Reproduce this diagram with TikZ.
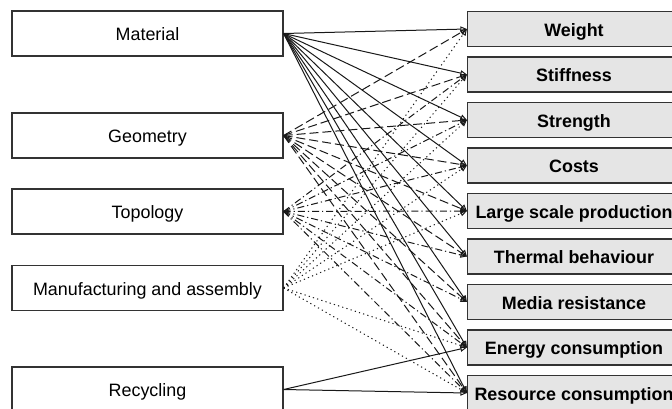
\documentclass[tikz,border=0pt]{standalone}
\usepackage{fontspec}
\setmainfont{Liberation Sans}
\usetikzlibrary{arrows.meta}
\tikzstyle{cause}=[rectangle,fill=white,draw=black!80,line width=1.2pt,minimum width=271pt,minimum height=45pt,inner sep=0pt,text height=14.5pt,text depth=0pt,anchor=center,font=\fontsize{17.9}{20}\selectfont]
\tikzstyle{effect}=[rectangle,fill=black!10,draw=black!80,line width=1.2pt,minimum width=213pt,minimum height=35pt,inner sep=0pt,text height=14pt,text depth=0pt,anchor=center,font=\fontsize{17.9}{20}\selectfont\bfseries]
\tikzstyle{link}=[line width=1pt,black!90,-{Triangle[open,length=6.5pt,width=5.5pt]}]
\tikzstyle{lmat}=[link,solid]
\tikzstyle{lgeo}=[link,dash pattern=on 9pt off 4pt]
\tikzstyle{ltop}=[link,dash pattern=on 7pt off 3pt on 1.2pt off 3pt]
\tikzstyle{lman}=[link,dash pattern=on 1.2pt off 3.2pt]
\begin{document}
\begin{tikzpicture}[x=1pt,y=-1pt]
	\clip (0,0) rectangle (672,408);
	\fill[white] (0,0) rectangle (672,408);

	% causes
	\node[cause](material) at (147.5,33.5){Material};
	\node[cause](geometry) at (147.5,135.5){Geometry};
	\node[cause](topology) at (147.5,211.5){Topology};
	\node[cause](manufacturing) at (147.5,288){Manufacturing and assembly};
	\node[cause](recycling) at (147.5,389.5){Recycling};

	% effects
	\foreach \name/\label [count=\i from 0] in {weight/Weight, stiffness/Stiffness, strength/Strength, costs/Costs, largescale/Large scale production, thermal/Thermal behaviour, media/Media resistance, energy/Energy consumption, resource/Resource consumption}
		\node[effect](\name) at (574,29+45.5*\i){\label};

	% links
	\foreach \t in {weight,stiffness,strength,costs,largescale,thermal,media,energy,resource}
		\draw[lmat] (material.east) -- (\t.west);
	\foreach \t in {weight,stiffness,strength,costs,largescale,thermal,media,energy,resource}
		\draw[lgeo] (geometry.east) -- (\t.west);
	\foreach \t in {stiffness,strength,costs,largescale,thermal,media,energy,resource}
		\draw[ltop] (topology.east) -- (\t.west);
	\foreach \t in {weight,stiffness,strength,costs,largescale,energy,resource}
		\draw[lman] (manufacturing.east) -- (\t.west);
	\foreach \t in {energy,resource}
		\draw[lmat] (recycling.east) -- (\t.west);

\end{tikzpicture}
\end{document}
